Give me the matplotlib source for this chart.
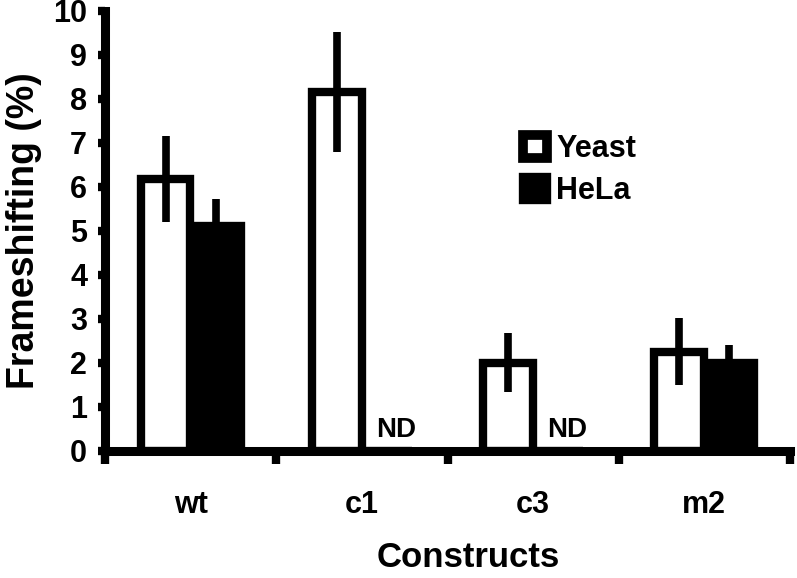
import matplotlib.pyplot as plt
import numpy as np
from matplotlib.patches import Patch

plt.rcParams['font.family'] = ['Liberation Sans', 'DejaVu Sans']
plt.rcParams['font.weight'] = 'bold'

constructs = ['wt', 'c1', 'c3', 'm2']
yeast = [6.18, 8.16, 2.0, 2.25]
yeast_err = [0.98, 1.36, 0.67, 0.76]
hela = [5.11, np.nan, np.nan, 2.0]
hela_err = [0.62, np.nan, np.nan, 0.41]
nd_label = 'ND'

fig = plt.figure(figsize=(7.97, 5.78), dpi=100)
ax = fig.add_axes([0.132, 0.22, 0.859, 0.761])

index = np.arange(len(constructs))
bar_width = 0.29
off = 0.147

ax.bar(index - off, yeast, bar_width, color='white', edgecolor='black',
       linewidth=6, zorder=2)
ax.bar(index + off, np.nan_to_num(hela), bar_width, color='black',
       edgecolor='black', linewidth=6, zorder=2)

ax.errorbar(index - off, yeast, yerr=yeast_err, fmt='none', ecolor='black',
            elinewidth=5.5, capsize=0, zorder=3)
ax.errorbar(index + off, hela, yerr=hela_err, fmt='none', ecolor='black',
            elinewidth=5.5, capsize=0, zorder=3)

# not determined markers
for i, v in enumerate(hela):
    if np.isnan(v):
        ax.text(index[i] + off + 0.05, 0.17, nd_label, ha='center', va='bottom',
                fontsize=20, fontweight='bold')

ax.set_xlim(-0.5, 3.5)
ax.set_ylim(0, 10)
ax.set_yticks(np.arange(0, 11, 1))
ax.set_xticks(index)
ax.set_xticklabels(constructs, fontsize=22, fontweight='bold')
ax.set_xticks(np.arange(-0.5, 4, 1), minor=True)
ax.tick_params(axis='x', which='major', length=0, pad=28)
ax.tick_params(axis='x', which='minor', length=9, width=6, direction='out')
ax.tick_params(axis='y', length=5, width=6, direction='out', pad=8,
               labelsize=22)

ax.set_xlabel('Constructs', fontsize=25, fontweight='bold')
ax.xaxis.set_label_coords(0.53, -0.205)
ax.set_ylabel('Frameshifting (%)', fontsize=27, fontweight='bold', labelpad=8)

ax.spines['top'].set_visible(False)
ax.spines['right'].set_visible(False)
ax.spines['left'].set_linewidth(6.5)
ax.spines['bottom'].set_linewidth(6.5)

handles = [Patch(facecolor='white', edgecolor='black', linewidth=7),
           Patch(facecolor='black', edgecolor='black', linewidth=6)]
ax.legend(handles, ['Yeast', 'HeLa'], loc='upper left',
          bbox_to_anchor=(0.61, 0.72), frameon=False, fontsize=22,
          handlelength=0.8, handleheight=0.8, handletextpad=0.3,
          borderpad=0, borderaxespad=0, labelspacing=0.4)

fig.savefig('out.png', dpi=100, facecolor='white')
